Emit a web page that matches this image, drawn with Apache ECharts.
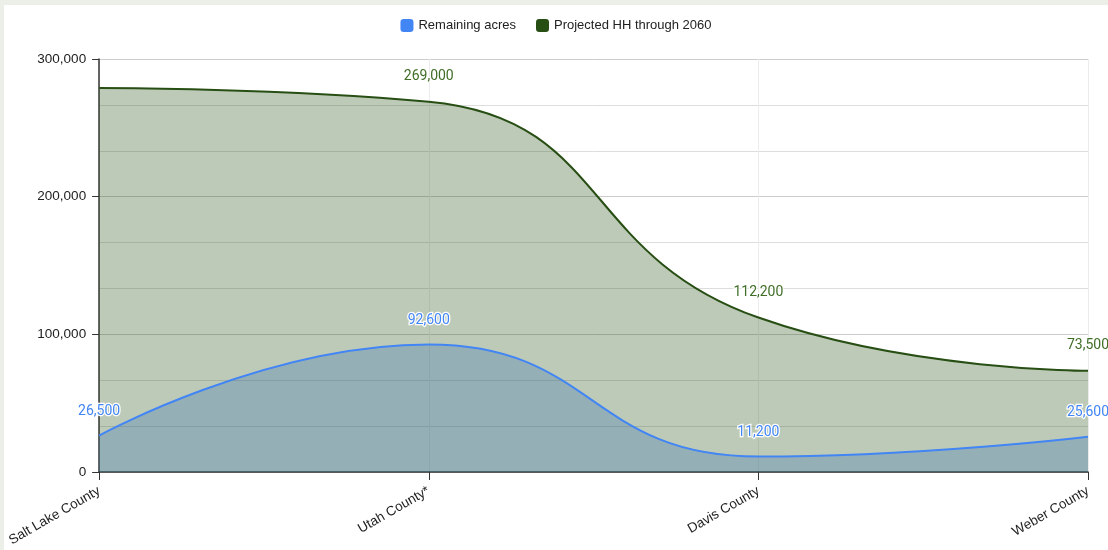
<!DOCTYPE html>
<html>
<head>
<meta charset="utf-8">
<script src="https://cdn.jsdelivr.net/npm/echarts@6/dist/echarts.min.js"></script>
<style>
  html, body { margin: 0; padding: 0; background: #eceee8; }
  #chart { position: absolute; left: 4px; top: 5px; width: 1104px; height: 545px; background: #fff; }
</style>
</head>
<body>
<div id="chart"></div>
<script>
const counties = ["Salt Lake County", "Utah County*", "Davis County", "Weber County"];
const remainingAcres = [26500, 92600, 11200, 25600];
const projectedHH = [279000, 269000, 112200, 73500];
const hiddenHHLabels = [0];

const chart = echarts.init(document.getElementById("chart"));

const fmt = p => p.value.toLocaleString("en-US");

const option = {
  animation: false,
  textStyle: { fontFamily: "Arial, 'Liberation Sans', sans-serif" },
  legend: {
    top: 9,
    left: "center",
    itemWidth: 13,
    itemHeight: 13,
    itemGap: 20,
    icon: "roundRect",
    textStyle: { color: "#222", fontSize: 13 },
    data: ["Remaining acres", "Projected HH through 2060"]
  },
  grid: { left: 94, right: 20, top: 54, bottom: 78 },
  xAxis: {
    type: "category",
    boundaryGap: false,
    data: counties,
    axisLine: { lineStyle: { color: "#333", width: 1.5 } },
    axisTick: { show: true, length: 8, alignWithLabel: true, lineStyle: { color: "#333" } },
    axisLabel: { rotate: 30, color: "#222", fontSize: 13.5, margin: 18 },
    splitLine: { show: true, lineStyle: { color: "#ececec" } }
  },
  yAxis: {
    type: "value",
    min: 0,
    max: 300000,
    interval: 100000,
    axisLine: { show: true, lineStyle: { color: "#333", width: 1.5 } },
    axisTick: { show: true, length: 7, lineStyle: { color: "#333" } },
    axisLabel: {
      color: "#222",
      fontSize: 13.5,
      margin: 13,
      formatter: v => v.toLocaleString("en-US")
    },
    splitLine: { lineStyle: { color: "#cccccc" } },
    minorTick: { show: false, splitNumber: 3 },
    minorSplitLine: { show: true, lineStyle: { color: "#dddddd" } }
  },
  series: [
    {
      name: "Projected HH through 2060",
      type: "line",
      smooth: 0.5,
      symbol: "circle",
      symbolSize: 0,
      z: 2,
      data: projectedHH.map((v, i) => hiddenHHLabels.includes(i) ? { value: v, label: { show: false } } : v),
      itemStyle: { color: "#274e13" },
      lineStyle: { color: "#274e13", width: 2 },
      areaStyle: { color: "#274e13", opacity: 0.3 },
      label: {
        show: true,
        position: "top",
        distance: 18,
        color: "#3f6e26",
        fontFamily: "Roboto, sans-serif",
        fontSize: 14,
        textBorderColor: "#fff",
        textBorderWidth: 2,
        formatter: fmt
      }
    },
    {
      name: "Remaining acres",
      type: "line",
      smooth: 0.5,
      symbol: "circle",
      symbolSize: 0,
      z: 3,
      data: remainingAcres,
      itemStyle: { color: "#4285f4" },
      lineStyle: { color: "#4285f4", width: 2 },
      // tinted so it blends over the green fill like the original
      areaStyle: { color: "#3671b1", opacity: 0.3 },
      label: {
        show: true,
        position: "top",
        distance: 17,
        color: "#4285f4",
        fontFamily: "Roboto, sans-serif",
        fontSize: 14,
        textBorderColor: "#fff",
        textBorderWidth: 2.5,
        formatter: fmt
      }
    }
  ]
};

chart.setOption(option);
</script>
</body>
</html>
